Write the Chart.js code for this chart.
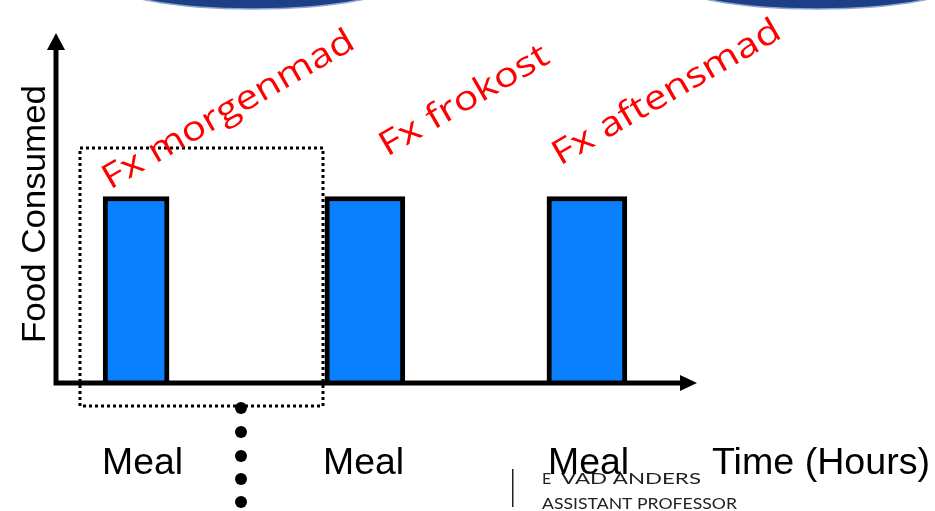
<!DOCTYPE html>
<html>
<head>
<meta charset="utf-8">
<script src="https://cdn.jsdelivr.net/npm/chart.js@4.4.1/dist/chart.umd.min.js"></script>
<style>
  html, body { margin: 0; padding: 0; background: #fff; }
  canvas { display: block; }
</style>
</head>
<body>
<canvas id="foodChart" width="935" height="511"></canvas>
<script>
// meal times (hours) and food consumed at each meal
const mealTimes = [3.08, 11.88, 20.42];
const foodConsumed = [5.6, 5.6, 5.6];
const mealLabels = ['Meal', 'Meal', 'Meal'];
const mealNotes = ['Fx morgenmad', 'Fx frokost', 'Fx aftensmad'];
const barWidths = [66, 80, 80];
const xAxisTitle = 'Time (Hours)';
const yAxisTitle = 'Food Consumed';
const footerName = ['E', 'VAD ANDERS'];
const footerRole = 'ASSISTANT PROFESSOR';

// draw text squeezed/stretched to a target width
function fitText(ctx, txt, x, y, w) {
  const m = ctx.measureText(txt).width;
  ctx.save();
  ctx.translate(x, y);
  ctx.scale(w / m, 1);
  ctx.fillText(txt, 0, 0);
  ctx.restore();
}

const decorPlugin = {
  id: 'decor',
  beforeDraw(chart) {
    const ctx = chart.ctx;
    ctx.save();
    ctx.fillStyle = '#fff';
    ctx.fillRect(0, 0, chart.width, chart.height);
    // slide header ovals
    [[253, 146], [817, 146]].forEach(([cx, rx]) => {
      ctx.beginPath();
      ctx.ellipse(cx, -19, rx, 28, 0, 0, Math.PI * 2);
      ctx.fillStyle = '#1d3f87';
      ctx.fill();
      ctx.lineWidth = 1.5;
      ctx.strokeStyle = '#8fa6cf';
      ctx.stroke();
    });
    ctx.restore();
  },
  afterDatasetsDraw(chart) {
    const ctx = chart.ctx;
    const a = chart.chartArea;
    ctx.save();

    // dotted box round the first meal
    ctx.strokeStyle = '#000';
    ctx.lineWidth = 3;
    ctx.setLineDash([3, 3]);
    ctx.strokeRect(80, 148, 243, 258);
    ctx.setLineDash([]);

    // axes
    ctx.lineWidth = 5;
    ctx.beginPath();
    ctx.moveTo(a.left, a.bottom);
    ctx.lineTo(a.left, a.top);
    ctx.moveTo(a.left - 2.5, a.bottom);
    ctx.lineTo(a.right, a.bottom);
    ctx.stroke();
    ctx.fillStyle = '#000';
    ctx.beginPath();
    ctx.moveTo(a.left, a.top - 17);
    ctx.lineTo(a.left - 9, a.top);
    ctx.lineTo(a.left + 9, a.top);
    ctx.closePath();
    ctx.fill();
    ctx.beginPath();
    ctx.moveTo(a.right + 17, a.bottom);
    ctx.lineTo(a.right, a.bottom - 8);
    ctx.lineTo(a.right, a.bottom + 8);
    ctx.closePath();
    ctx.fill();

    // dots under the box
    [408, 432, 456, 479, 502].forEach(y => {
      ctx.beginPath();
      ctx.arc(241, y, 6, 0, Math.PI * 2);
      ctx.fill();
    });

    // y axis title
    ctx.font = '34px "Liberation Sans", Arial, sans-serif';
    ctx.textBaseline = 'alphabetic';
    ctx.save();
    ctx.translate(45, 214);
    ctx.rotate(-Math.PI / 2);
    fitText(ctx, yAxisTitle, -129, 0, 258);
    ctx.restore();

    // footer text
    ctx.fillStyle = '#222';
    ctx.font = '16px Lato, "Noto Sans", sans-serif';
    ctx.fillText(footerName[0], 542, 484);
    fitText(ctx, footerName[1], 561, 484, 140);
    fitText(ctx, footerRole, 542, 509, 195);
    ctx.fillRect(512, 469, 1.5, 38);

    // white box behind the axis title
    ctx.fillStyle = '#fff';
    ctx.fillRect(700, 425, 235, 60);

    // x labels
    ctx.fillStyle = '#000';
    ctx.font = '36px "Liberation Sans", Arial, sans-serif';
    const leftEdges = [102, 323, 548];
    mealLabels.forEach((t, i) => fitText(ctx, t, leftEdges[i], 474, 81));
    fitText(ctx, xAxisTitle, 712, 474, 218);

    // red notes above the meals
    ctx.fillStyle = '#ff0000';
    ctx.font = '400 34px "Open Sans", Lato, sans-serif';
    const notePos = [[110, 190, 285], [387, 157, 190], [560, 166, 258]];
    mealNotes.forEach((t, i) => {
      const [x, y, w] = notePos[i];
      ctx.save();
      ctx.translate(x, y);
      ctx.rotate(-30 * Math.PI / 180);
      fitText(ctx, t, 0, 0, w);
      ctx.restore();
    });
    ctx.restore();
  }
};

const datasets = mealTimes.map((t, i) => ({
  data: [{ x: t, y: foodConsumed[i] }],
  backgroundColor: '#0a80ff',
  borderColor: '#000',
  borderWidth: 5,
  borderSkipped: 'bottom',
  barThickness: barWidths[i],
  grouped: false
}));

new Chart(document.getElementById('foodChart'), {
  type: 'bar',
  data: { datasets },
  options: {
    responsive: false,
    animation: false,
    layout: { padding: { left: 56, right: 255, top: 50, bottom: 128 } },
    plugins: { legend: { display: false }, tooltip: { enabled: false } },
    scales: {
      x: { type: 'linear', min: 0, max: 24, offset: false, display: false },
      y: { min: 0, max: 10, display: false }
    }
  },
  plugins: [decorPlugin]
});
</script>
</body>
</html>
